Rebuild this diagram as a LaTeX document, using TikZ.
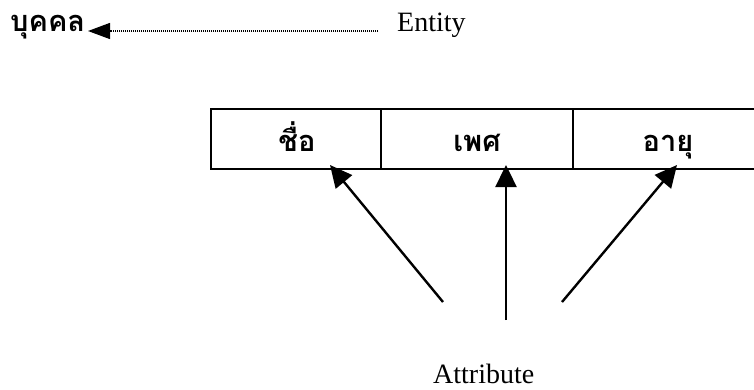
\documentclass[tikz,border=0pt]{standalone}
\usepackage{fontspec}
\setmainfont{Liberation Serif}
\newfontfamily\thaifont[Script=Thai]{Loma}
\usetikzlibrary{arrows.meta}
\begin{document}
\begin{tikzpicture}[x=1pt,y=-1pt,
  thaitxt/.style={font=\thaifont\bfseries\fontsize{29}{29}\selectfont, inner sep=0pt},
  lattxt/.style={font=\fontsize{28}{28}\selectfont, inner sep=0pt},
  cellbox/.style={draw, line width=1.5pt, inner sep=0pt},
  attrarrow/.style={line width=2.4pt, -{Triangle[length=22pt,width=21pt]}},
  entarrow/.style={line width=1.3pt, dash pattern=on 1pt off 1pt, -{Triangle[length=22pt,width=16pt]}}
]
\useasboundingbox (0,0) rectangle (754,389);
\node[thaitxt, anchor=base west] (person) at (10,31) {บุคคล};
\node[lattxt, anchor=base west] (entity) at (397,31) {Entity};
\coordinate (estart) at (378,31);
\coordinate (eend) at (88,31);
\draw[entarrow] (estart) -- (eend);
% table cells
\node[cellbox, minimum width=170pt, minimum height=60pt] (c1) at (296,139) {};
\node[cellbox, minimum width=192pt, minimum height=60pt] (c2) at (477,139) {};
\node[cellbox, minimum width=200pt, minimum height=60pt] (c3) at (673,139) {};
\node[thaitxt, anchor=base] (t1) at (297,151) {ชื่อ};
\node[thaitxt, anchor=base] (t2) at (477,151) {เพศ};
\node[thaitxt, anchor=base] (t3) at (668,151) {อายุ};
% attribute
\node[lattxt, anchor=base west] (attr) at (433,383) {Attribute};
\coordinate (a1) at (443,302);
\coordinate (a2) at (506,320);
\coordinate (a3) at (562,302);
\coordinate (h1) at (330,165);
\coordinate (h2) at (506,165);
\coordinate (h3) at (677,165);
\draw[attrarrow] (a1) -- (h1);
\draw[attrarrow] (a2) -- (h2);
\draw[attrarrow] (a3) -- (h3);
\end{tikzpicture}
\end{document}
